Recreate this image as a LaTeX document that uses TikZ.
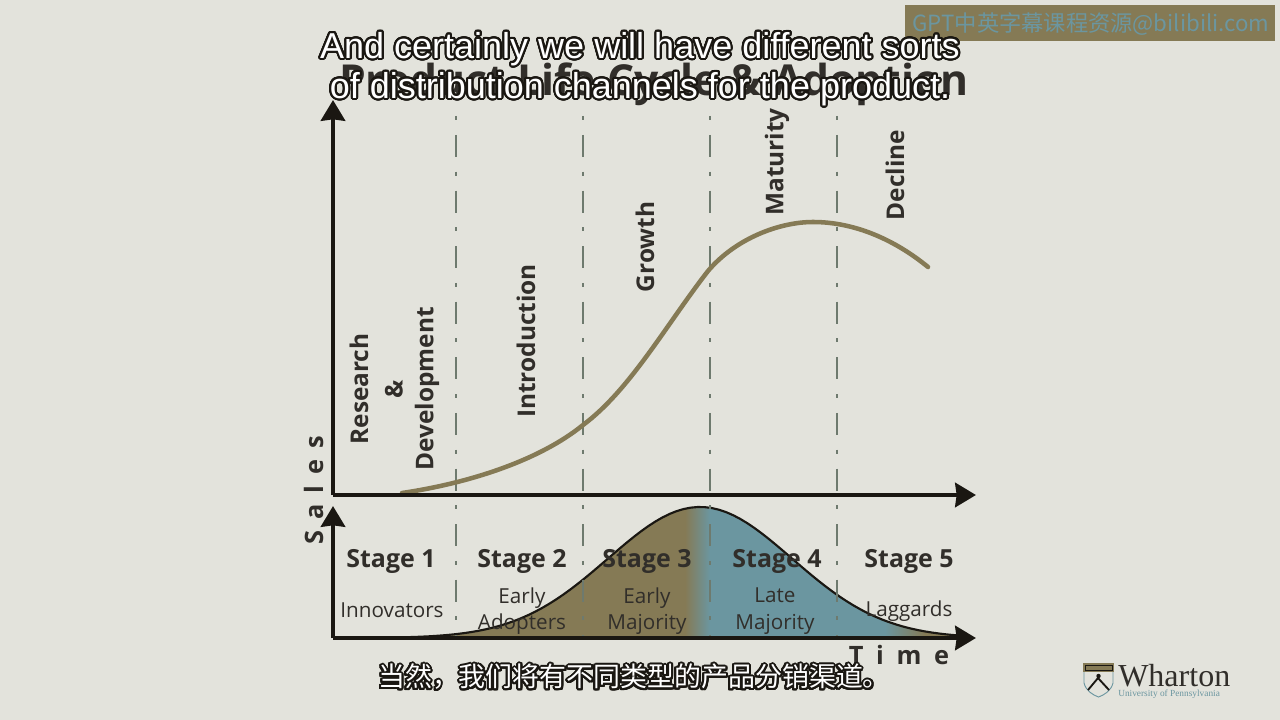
\documentclass[tikz,border=0pt]{standalone}
\usepackage{xcolor}
\usepackage{fontspec}
\usepackage[copies]{contour}
\usetikzlibrary{arrows.meta,shadings}
\setmainfont{Liberation Sans}
\setsansfont{Open Sans}
\newfontfamily\cjk{Noto Sans CJK SC}
\newfontfamily\logofont{Liberation Serif}
\definecolor{paper}{HTML}{E3E3DC}
\definecolor{ink}{HTML}{1A1712}
\definecolor{olive}{HTML}{857A55}
\definecolor{teal}{HTML}{6B96A0}
\definecolor{guide}{HTML}{6E7A6E}
\contourlength{1.5pt}
\contournumber{32}
\tikzset{
  axisline/.style={ink, line width=3.6pt, -{Stealth[inset=1pt, length=15.5pt, width=18pt]}},
  guideline/.style={guide, line width=2pt, dash pattern=on 3pt off 11.2pt on 16.5pt off 11pt},
  phase/.style={rotate=90, ink!90, font=\sffamily\bfseries\fontsize{18.3}{20}\selectfont, inner sep=0pt},
  stagelabel/.style={ink!90, font=\sffamily\bfseries\fontsize{18.7}{20}\selectfont, inner sep=0pt},
  adopter/.style={ink!90, align=center, font=\sffamily\fontsize{15.5}{20}\selectfont, inner sep=0pt},
  subtitle/.style={inner sep=0pt, align=center, font=\fontsize{27}{30}\selectfont},
  declare function={bell(\t)=638-131*exp(-0.5*((\t-700)/92)^2);},
}
\newcommand{\outlined}[1]{\contour{ink}{\textcolor{white}{#1}}}
\begin{document}
\begin{tikzpicture}[x=0.75pt, y=-0.75pt]
\fill[paper] (0,0) rectangle (1280,720);
\useasboundingbox (0,0) rectangle (1280,720);

% header
\node[inner sep=0pt, anchor=base, ink!90, font=\sffamily\bfseries\fontsize{32}{35}\selectfont] (title) at (654,96) {Product Life Cycle \& Adoption};
\fill[olive] (905,5) rectangle (1275,41);
\node[inner sep=0pt, teal, font=\cjk\fontsize{16.7}{18}\selectfont] (watermark) at (1091,24) {GPT中英字幕课程资源@bilibili.com};

% bell
\begin{scope}
  \clip plot[domain=333:960, samples=80] (\x, {bell(\x)}) -- (960,638) -- (333,638) -- cycle;
  \fill[olive] (333,500) rectangle (685,638);
  \shade[left color=olive, right color=teal] (685,500) rectangle (710,638);
  \fill[teal] (710,500) rectangle (885,638);
  \shade[left color=teal, right color=olive] (885,500) rectangle (925,638);
  \fill[olive] (925,500) rectangle (960,638);
\end{scope}
\draw[ink, line width=1.6pt] plot[domain=400:960, samples=80] (\x, {bell(\x)});

% stage lines
\foreach \px/\name in {456/one, 583/two, 710/three, 837/four} {
  \coordinate (top\name) at (\px,116);
  \coordinate (bottom\name) at (\px,638);
  \draw[guideline] (top\name) -- (bottom\name);
}

% sales curve
\draw[olive, line width=3.4pt, line cap=round] (402,493) .. controls (470,483) and (540,460) .. (583,425) .. controls (630,390) and (666,325) .. (708,271) .. controls (736,238) and (780,222) .. (813,222) .. controls (855,222) and (895,240) .. (928,267);

% axes
\coordinate (upperorigin) at (333,495);
\coordinate (uppertop) at (333,100);
\coordinate (upperend) at (976,495);
\coordinate (lowerorigin) at (333,638);
\coordinate (lowertop) at (333,506);
\coordinate (lowerend) at (976,638);
\draw[axisline] (upperorigin) -- (uppertop);
\draw[axisline] (upperorigin) -- (upperend);
\draw[axisline] (lowerorigin) -- (lowertop);
\draw[axisline] (lowerorigin) -- (lowerend);

% phases
\node[phase] (research) at (359,389) {Research};
\node[phase] (amp) at (394,389) {\&};
\node[phase] (development) at (427,389) {Development};
\node[phase] (introduction) at (526,341) {Introduction};
\node[phase] (growth) at (645,247) {Growth};
\node[phase] (maturity) at (777,162) {Maturity};
\node[phase] (decline) at (895,175) {Decline};

\node[rotate=90, inner sep=0pt, ink!90, font=\sffamily\bfseries\fontsize{19}{21}\selectfont\addfontfeature{LetterSpace=44}] (sales) at (314,490) {Sales};
\node[inner sep=0pt, ink!90, font=\sffamily\bfseries\fontsize{19}{21}\selectfont\addfontfeature{LetterSpace=50}] (time) at (899,655) {Time};

% stages
\node[stagelabel] (stage1) at (391,561) {Stage 1};
\node[stagelabel] (stage2) at (522,561) {Stage 2};
\node[stagelabel] (stage3) at (647,561) {Stage 3};
\node[stagelabel] (stage4) at (777,561) {Stage 4};
\node[stagelabel] (stage5) at (909,561) {Stage 5};
\node[adopter] (innovators) at (392,610) {Innovators};
\node[adopter] (earlyadopters) at (522,611) {Early\\Adopters};
\node[adopter] (earlymajority) at (647,611) {Early\\Majority};
\node[adopter] (latemajority) at (775,611) {Late\\Majority};
\node[adopter] (laggards) at (909,611) {Laggards};

% subtitles
\node[subtitle] (subline1) at (640,50) {\outlined{And certainly we will have different sorts}};
\node[subtitle] (subline2) at (640,90) {\outlined{of distribution channels for the product.}};
\node[inner sep=0pt, font=\cjk\fontsize{20.2}{22}\selectfont] (subline3) at (634,678) {\outlined{当然，我们将有不同类型的产品分销渠道。}};

% logo
\fill[olive] (1083,663) rectangle (1114,672);
\draw[ink, line width=0.6pt] (1085,665) rectangle (1112,670);
\draw[teal, line width=0.7pt] (1084,672) -- (1084,683) .. controls (1086,691) and (1093,695) .. (1098.5,697) .. controls (1104,695) and (1111,691) .. (1113,683) -- (1113,672);
\draw[ink, line width=1.4pt] (1088,690) -- (1098,678) -- (1109,690);
\fill[ink] (1098.5,676) circle (2.2);
\node[inner sep=0pt, anchor=base west, ink!90, font=\logofont\fontsize{24}{26}\selectfont] (wharton) at (1118,686) {Wharton};
\node[inner sep=0pt, anchor=base west, teal, font=\logofont\fontsize{7}{8}\selectfont] (penn) at (1118,696) {University of Pennsylvania};
\end{tikzpicture}
\end{document}
